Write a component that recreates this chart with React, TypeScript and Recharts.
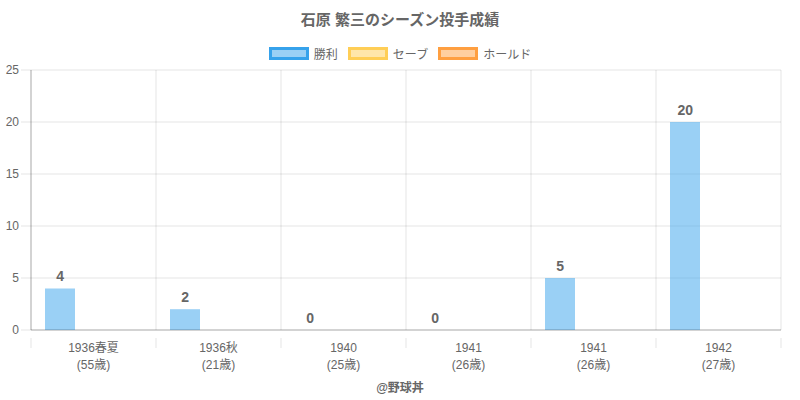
import { Bar, CartesianGrid, ComposedChart, LabelList, Line, XAxis, YAxis } from "recharts";

const seasons = ["1936春夏", "1936秋", "1940", "1941", "1941", "1942"];
const ages = ["(55歳)", "(21歳)", "(25歳)", "(26歳)", "(26歳)", "(27歳)"];
const wins = [4, 2, 0, 0, 5, 20];
const saves = [0, 0, 0, 0, 0, 0];
const holds = [0, 0, 0, 0, 0, 0];
const yTicks = [0, 5, 10, 15, 20, 25];

const series = [
    { key: "win", name: "勝利", fill: "rgba(54,162,235,0.5)", stroke: "rgb(54,162,235)" },
    { key: "save", name: "セーブ", fill: "rgba(255,206,86,0.5)", stroke: "rgb(255,206,86)" },
    { key: "hold", name: "ホールド", fill: "rgba(255,159,64,0.5)", stroke: "rgb(255,159,64)" },
];

const data = seasons.map((s, i) => ({
    season: s,
    age: ages[i],
    win: wins[i],
    save: saves[i],
    hold: holds[i],
}));

const FONT = "'Liberation Sans', 'Noto Sans CJK JP', sans-serif";
const TEXT = "#666";
const GRID = "rgba(0,0,0,0.1)";
const PLOT_W = 750;
const BAND = PLOT_W / seasons.length;
// the win bar is the first of three in each band
const WIN_SHIFT = -(BAND * 0.8) / series.length;

function SeasonTick(props: any) {
    const { x, y, payload, index } = props;
    const i = payload.index ?? index;
    const last = i === seasons.length - 1;
    return (
        <g>
            <line x1={x - BAND / 2} x2={x - BAND / 2} y1={y} y2={y + 10} stroke={GRID} />
            {last && <line x1={x + BAND / 2} x2={x + BAND / 2} y1={y} y2={y + 10} stroke={GRID} />}
            <text x={x} y={y + 14} textAnchor="middle" fill={TEXT} fontSize={12} fontFamily={FONT}>
                {payload.value}
            </text>
            <text x={x} y={y + 31} textAnchor="middle" fill={TEXT} fontSize={12} fontFamily={FONT}>
                {ages[i] ?? ""}
            </text>
        </g>
    );
}

function WinLabel(props: any) {
    const { x, y, value } = props;
    return (
        <text
            x={x + WIN_SHIFT}
            y={y - 7}
            textAnchor="middle"
            fill={TEXT}
            fontSize={14}
            fontWeight="bold"
            fontFamily={FONT}
        >
            {value}
        </text>
    );
}

function LegendBoxes() {
    return (
        <div
            style={{
                position: "absolute",
                top: 45,
                width: 800,
                display: "flex",
                justifyContent: "center",
                gap: 10,
                fontFamily: FONT,
                fontSize: 12,
                color: TEXT,
            }}
        >
            {series.map((s) => (
                <div key={s.key} style={{ display: "flex", alignItems: "center", gap: 5 }}>
                    <span
                        style={{
                            display: "inline-block",
                            width: 34,
                            height: 7,
                            background: s.fill,
                            border: `3px solid ${s.stroke}`,
                        }}
                    />
                    <span>{s.name}</span>
                </div>
            ))}
        </div>
    );
}

export default function App() {
    return (
        <div style={{ position: "absolute", left: 0, top: 0, width: 800, height: 400, background: "#fff" }}>
            <div
                style={{
                    position: "absolute",
                    top: 8,
                    width: 800,
                    textAlign: "center",
                    fontFamily: FONT,
                    fontWeight: "bold",
                    fontSize: 15,
                    color: TEXT,
                }}
            >
                石原 繁三のシーズン投手成績
            </div>
            <LegendBoxes />
            <ComposedChart
                width={800}
                height={400}
                data={data}
                margin={{ top: 70, right: 19, bottom: 30, left: 0 }}
                barSize={30}
                barGap={3.33}
            >
                <CartesianGrid
                    stroke={GRID}
                    verticalCoordinatesGenerator={({ offset }: any) =>
                        seasons.map((_, i) => offset.left + (i * offset.width) / seasons.length).concat(offset.left + offset.width)
                    }
                />
                <XAxis
                    dataKey="season"
                    height={40}
                    interval={0}
                    tickLine={false}
                    axisLine={{ stroke: "rgba(0,0,0,0.25)" }}
                    tick={<SeasonTick />}
                />
                <YAxis
                    width={31}
                    domain={[0, 25]}
                    ticks={yTicks}
                    tickSize={10}
                    tickMargin={2}
                    tickLine={{ stroke: GRID }}
                    axisLine={{ stroke: "rgba(0,0,0,0.25)" }}
                    tick={{ fill: TEXT, fontSize: 12, fontFamily: FONT }}
                />
                {series.map((s) => (
                    <Bar key={s.key} dataKey={s.key} name={s.name} fill={s.fill} isAnimationActive={false} />
                ))}
                <Line
                    dataKey="win"
                    stroke="none"
                    dot={false}
                    activeDot={false}
                    legendType="none"
                    isAnimationActive={false}
                >
                    <LabelList dataKey="win" content={<WinLabel />} />
                </Line>
            </ComposedChart>
            <div
                style={{
                    position: "absolute",
                    top: 378,
                    width: 800,
                    textAlign: "center",
                    fontFamily: FONT,
                    fontWeight: "bold",
                    fontSize: 12,
                    color: TEXT,
                }}
            >
                @野球丼
            </div>
        </div>
    );
}
